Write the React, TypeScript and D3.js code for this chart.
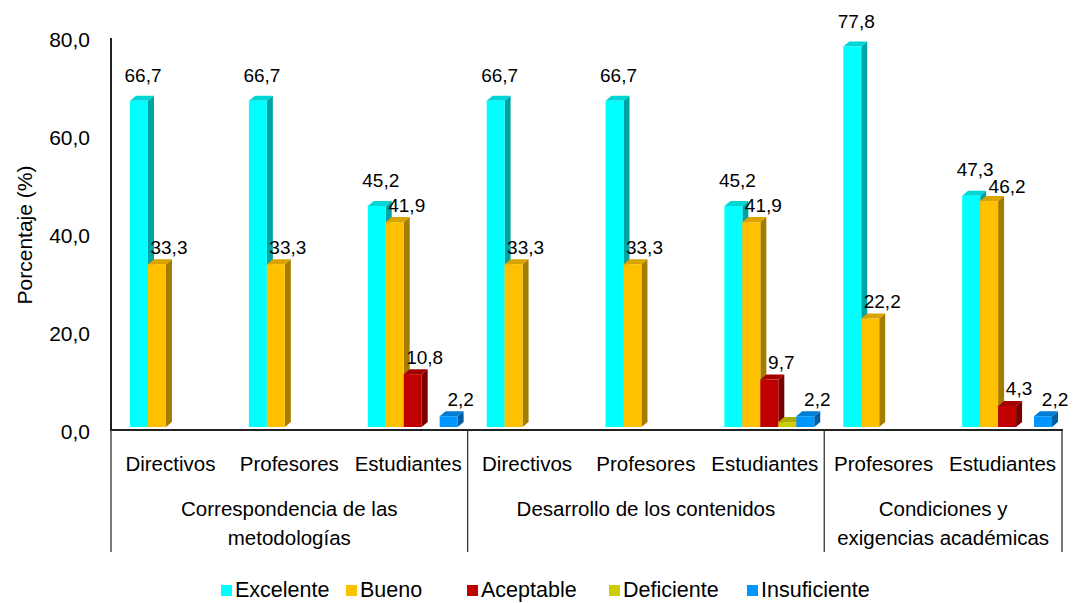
import React from "react";
import * as d3 from "d3";

const subCategories = ["Directivos", "Profesores", "Estudiantes", "Directivos", "Profesores", "Estudiantes", "Profesores", "Estudiantes"];
const groupLabels = [["Correspondencia de las", "metodologías"], ["Desarrollo de los contenidos"], ["Condiciones y", "exigencias académicas"]];
const groupSizes = [3, 3, 2];
const seriesNames = ["Excelente", "Bueno", "Aceptable", "Deficiente", "Insuficiente"];
const excelente = [66.7, 66.7, 45.2, 66.7, 66.7, 45.2, 77.8, 47.3];
const bueno = [33.3, 33.3, 41.9, 33.3, 33.3, 41.9, 22.2, 46.2];
const aceptable = [0, 0, 10.8, 0, 0, 9.7, 0, 4.3];
const deficiente = [0, 0, 0, 0, 0, 1.0, 0, 0];
const insuficiente = [0, 0, 2.2, 0, 0, 2.2, 0, 2.2];
const yTicks = [0, 20, 40, 60, 80];

const seriesValues = [excelente, bueno, aceptable, deficiente, insuficiente];
const colors = [
  { front: "#00FFFF", top: "#00D5D5", side: "#00A3A3" },
  { front: "#FFC000", top: "#D9A300", side: "#A67C00" },
  { front: "#C00000", top: "#A30000", side: "#7A0000" },
  { front: "#CCCC00", top: "#ABAB00", side: "#8A8A00" },
  { front: "#0096FF", top: "#007ED6", side: "#005FA3" },
];

const W = 1078, H = 603;
const X0 = 111, X1 = 1062;
const DX = 6, DY = 5;
const FONT = "'Liberation Sans', Arial, sans-serif";
const legendX = [221, 346, 467, 609, 747];
// label nudges (category index-series index -> [dx, dy])
const labelNudge: Record<string, [number, number]> = { "7-1": [6, 2], "7-0": [0, -1] };

export default function App() {
  const y = d3.scaleLinear().domain([0, 80]).range([427, 35.8]);
  const x = d3.scaleBand<number>().domain(d3.range(subCategories.length)).range([X0, X1]).padding(0);
  const cw = x.bandwidth();
  const inner = d3.scaleBand<number>().domain(d3.range(seriesNames.length)).range([cw * 0.16, cw * 0.916]).padding(0);
  const bw = inner.bandwidth();

  const bars: React.ReactNode[] = [];
  const labels: React.ReactNode[] = [];
  subCategories.forEach((_, ci) => {
    seriesValues.forEach((vals, si) => {
      const v = vals[ci];
      if (!v) return;
      const bx = (x(ci) as number) + (inner(si) as number);
      const top = y(v);
      const bot = y(0);
      const c = colors[si];
      bars.push(
        <g key={`b${ci}-${si}`}>
          <polygon points={`${bx + bw},${top} ${bx + bw + DX},${top - DY} ${bx + bw + DX},${bot - DY} ${bx + bw},${bot}`} fill={c.side} />
          <polygon points={`${bx},${top} ${bx + DX},${top - DY} ${bx + bw + DX},${top - DY} ${bx + bw},${top}`} fill={c.top} />
          <rect x={bx} y={top} width={bw} height={bot - top} fill={c.front} />
        </g>
      );
      if (v >= 1.5) {
        const nudge = labelNudge[`${ci}-${si}`] || [0, 0];
        const ldx = (si === 0 ? 4 : 12) + nudge[0];
        const ldy = (si === 0 ? -25 : -17) + nudge[1];
        labels.push(
          <text key={`l${ci}-${si}`} x={bx + bw / 2 + ldx} y={top + ldy} textAnchor="middle" dominantBaseline="central" fontSize={19} fontFamily={FONT} fill="#000">
            {d3.format(".1f")(v).replace(".", ",")}
          </text>
        );
      }
    });
  });

  const bounds: number[] = [X0];
  let acc = 0;
  groupSizes.forEach((n) => { acc += n; bounds.push(acc === subCategories.length ? X1 : (x(acc) as number)); });

  return (
    <svg width={W} height={H} style={{ position: "absolute", left: 0, top: 0, background: "#fff" }}>
      <rect width={W} height={H} fill="#fff" />
      {bars}
      {labels}
      <line x1={X0} x2={X0} y1={38} y2={431} stroke="#222" strokeWidth={2} />
      <line x1={X0} x2={X1 + 1} y1={430} y2={430} stroke="#222" strokeWidth={2.2} />
      {bounds.map((b, i) => (
        <line key={`sep${i}`} x1={b} x2={b} y1={430} y2={552} stroke="#333" strokeWidth={1.3} />
      ))}
      {yTicks.map((t) => (
        <text key={`t${t}`} x={90} y={y(t) + 4} textAnchor="end" dominantBaseline="central" fontSize={21} fontFamily={FONT}>
          {d3.format(".1f")(t).replace(".", ",")}
        </text>
      ))}
      <text transform={`translate(24,${235}) rotate(-90)`} textAnchor="middle" dominantBaseline="central" fontSize={21} fontFamily={FONT}>
        Porcentaje (%)
      </text>
      {subCategories.map((s, i) => (
        <text key={`c${i}`} x={(x(i) as number) + cw / 2} y={463} textAnchor="middle" dominantBaseline="central" fontSize={20.5} fontFamily={FONT}>
          {s}
        </text>
      ))}
      {groupLabels.map((lines, gi) => (
        <text key={`g${gi}`} textAnchor="middle" fontSize={20.5} fontFamily={FONT}>
          {lines.map((ln, li) => (
            <tspan key={li} x={(bounds[gi] + bounds[gi + 1]) / 2} y={508 + li * 29} dominantBaseline="central">{ln}</tspan>
          ))}
        </text>
      ))}
      {seriesNames.map((n, i) => (
        <g key={`lg${i}`}>
          <rect x={legendX[i]} y={585} width={11} height={11} fill={colors[i].front} />
          <text x={legendX[i] + 14} y={590} dominantBaseline="central" fontSize={21.5} fontFamily={FONT}>{n}</text>
        </g>
      ))}
    </svg>
  );
}
